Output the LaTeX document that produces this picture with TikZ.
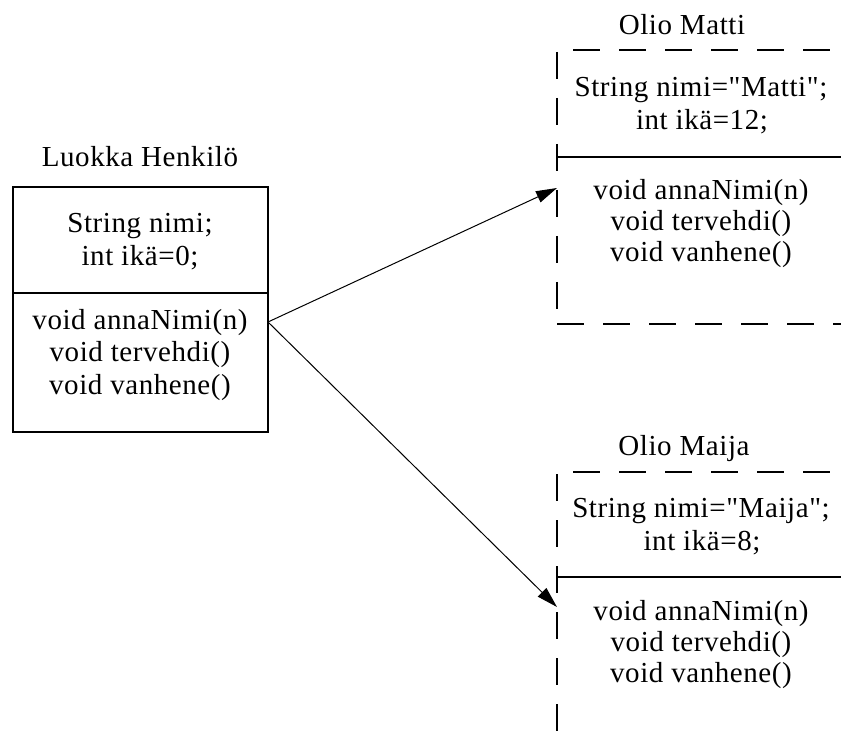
\documentclass[tikz,border=0pt]{standalone}
\usepackage{fontspec}
\setmainfont{Liberation Serif}[LetterSpace=2,Ligatures=TeXOff]
\usetikzlibrary{arrows.meta}
\begin{document}
\begin{tikzpicture}[x=1pt,y=-1pt,
  txt/.style={anchor=base,inner sep=0pt,font=\fontsize{29}{32}\selectfont},
  dsh/.style={line width=2pt,dash pattern=on 27pt off 19pt},
  sep/.style={line width=1.2pt},
  classbox/.style={draw,line width=1.6pt,inner sep=0pt,minimum width=255pt,minimum height=245pt},
  link/.style={line width=1pt,-{Triangle[length=21pt,width=12pt]}}]
\useasboundingbox (0,0) rectangle (841,743);
\clip (0,0) rectangle (841,743);

% class Henkilö
\node[classbox] (henkilo) at (140.5,309.5) {};
\draw[sep] (13,293) -- (268,293);
\node[txt] (ctitle) at (140,167) {Luokka Henkilö};
\node[txt] (cattr1) at (140,233) {String nimi;};
\node[txt] (cattr2) at (140,266) {int ikä=0;};
\node[txt] (cm1) at (140,330) {void annaNimi(n)};
\node[txt] (cm2) at (140,362) {void tervehdi()};
\node[txt] (cm3) at (140,394) {void vanhene()};

% object Matti
\draw[dsh] (573,50) -- (845,50);
\draw[dsh] (557,52) -- (557,324);
\draw[dsh] (557,324) -- (845,324);
\draw[sep] (557,157) -- (845,157);
\node[txt] (mtitle) at (682,35) {Olio Matti};
\node[txt] (mattr1) at (701,97) {String nimi="Matti";};
\node[txt] (mattr2) at (702,130) {int ikä=12;};
\node[txt] (mm1) at (701,200) {void annaNimi(n)};
\node[txt] (mm2) at (701,231) {void tervehdi()};
\node[txt] (mm3) at (701,262) {void vanhene()};

% object Maija
\draw[dsh] (573,472) -- (845,472);
\draw[dsh] (557,474) -- (557,750);
\draw[sep] (557,577) -- (845,577);
\node[txt] (jtitle) at (684,455) {Olio Maija};
\node[txt] (jattr1) at (701,517) {String nimi="Maija";};
\node[txt] (jattr2) at (702,550) {int ikä=8;};
\node[txt] (jm1) at (701,620) {void annaNimi(n)};
\node[txt] (jm2) at (701,651) {void tervehdi()};
\node[txt] (jm3) at (701,682) {void vanhene()};

% instantiation arrows
\coordinate (src) at (268,322);
\coordinate (mattiIn) at (557,188);
\coordinate (maijaIn) at (557,607);
\draw[link] (src) -- (mattiIn);
\draw[link] (src) -- (maijaIn);
\end{tikzpicture}
\end{document}
